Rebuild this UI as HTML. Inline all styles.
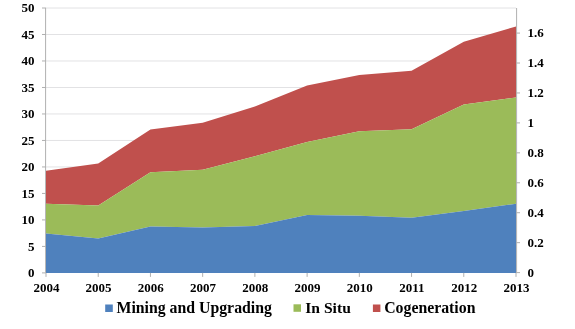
<!DOCTYPE html>
<html><head><meta charset="utf-8"><style>
html,body{margin:0;padding:0;background:#fff;width:575px;height:329px;overflow:hidden}
svg{display:block;will-change:transform}
.ax{font-family:"Liberation Serif",serif;font-weight:bold;font-size:13px;fill:#000}
.lg{font-family:"Liberation Serif",serif;font-weight:bold;font-size:15.8px;fill:#000}
</style></head><body>
<svg width="575" height="329" viewBox="0 0 575 329">
<line x1="46" x2="516" y1="246.41" y2="246.41" stroke="#E2E2E4" stroke-width="1"/>
<line x1="46" x2="516" y1="219.92" y2="219.92" stroke="#E2E2E4" stroke-width="1"/>
<line x1="46" x2="516" y1="193.43" y2="193.43" stroke="#E2E2E4" stroke-width="1"/>
<line x1="46" x2="516" y1="166.94" y2="166.94" stroke="#E2E2E4" stroke-width="1"/>
<line x1="46" x2="516" y1="140.45" y2="140.45" stroke="#E2E2E4" stroke-width="1"/>
<line x1="46" x2="516" y1="113.96" y2="113.96" stroke="#E2E2E4" stroke-width="1"/>
<line x1="46" x2="516" y1="87.47" y2="87.47" stroke="#E2E2E4" stroke-width="1"/>
<line x1="46" x2="516" y1="60.98" y2="60.98" stroke="#E2E2E4" stroke-width="1"/>
<line x1="46" x2="516" y1="34.49" y2="34.49" stroke="#E2E2E4" stroke-width="1"/>
<line x1="46" x2="516" y1="8.00" y2="8.00" stroke="#E2E2E4" stroke-width="1"/>
<line x1="45.6" x2="45.6" y1="8.0" y2="272.9" stroke="#B0B0B0" stroke-width="1"/>
<line x1="516.6" x2="516.6" y1="8.0" y2="272.9" stroke="#B0B0B0" stroke-width="1"/>
<polygon points="46.00,170.70 98.22,163.60 150.44,129.50 202.67,122.80 254.89,106.40 307.11,85.40 359.33,75.10 411.56,70.70 463.78,41.70 516.00,26.40 516.00,97.50 463.78,104.50 411.56,129.20 359.33,131.30 307.11,142.00 254.89,156.20 202.67,169.70 150.44,172.20 98.22,205.50 46.00,203.70" fill="#C0504D"/>
<polygon points="46.00,203.70 98.22,205.50 150.44,172.20 202.67,169.70 254.89,156.20 307.11,142.00 359.33,131.30 411.56,129.20 463.78,104.50 516.00,97.50 516.00,203.80 463.78,210.90 411.56,217.80 359.33,215.80 307.11,215.10 254.89,225.90 202.67,227.40 150.44,226.60 98.22,238.40 46.00,233.40" fill="#9BBB59"/>
<polygon points="46.00,233.40 98.22,238.40 150.44,226.60 202.67,227.40 254.89,225.90 307.11,215.10 359.33,215.80 411.56,217.80 463.78,210.90 516.00,203.80 516.00,272.9 46.00,272.9" fill="#4F81BD"/>
<line x1="42" x2="46" y1="272.90" y2="272.90" stroke="#B0B0B0" stroke-width="1"/>
<text x="34.5" y="277.00" text-anchor="end" class="ax">0</text>
<line x1="42" x2="46" y1="246.41" y2="246.41" stroke="#B0B0B0" stroke-width="1"/>
<text x="34.5" y="250.51" text-anchor="end" class="ax">5</text>
<line x1="42" x2="46" y1="219.92" y2="219.92" stroke="#B0B0B0" stroke-width="1"/>
<text x="34.5" y="224.02" text-anchor="end" class="ax">10</text>
<line x1="42" x2="46" y1="193.43" y2="193.43" stroke="#B0B0B0" stroke-width="1"/>
<text x="34.5" y="197.53" text-anchor="end" class="ax">15</text>
<line x1="42" x2="46" y1="166.94" y2="166.94" stroke="#B0B0B0" stroke-width="1"/>
<text x="34.5" y="171.04" text-anchor="end" class="ax">20</text>
<line x1="42" x2="46" y1="140.45" y2="140.45" stroke="#B0B0B0" stroke-width="1"/>
<text x="34.5" y="144.55" text-anchor="end" class="ax">25</text>
<line x1="42" x2="46" y1="113.96" y2="113.96" stroke="#B0B0B0" stroke-width="1"/>
<text x="34.5" y="118.06" text-anchor="end" class="ax">30</text>
<line x1="42" x2="46" y1="87.47" y2="87.47" stroke="#B0B0B0" stroke-width="1"/>
<text x="34.5" y="91.57" text-anchor="end" class="ax">35</text>
<line x1="42" x2="46" y1="60.98" y2="60.98" stroke="#B0B0B0" stroke-width="1"/>
<text x="34.5" y="65.08" text-anchor="end" class="ax">40</text>
<line x1="42" x2="46" y1="34.49" y2="34.49" stroke="#B0B0B0" stroke-width="1"/>
<text x="34.5" y="38.59" text-anchor="end" class="ax">45</text>
<line x1="42" x2="46" y1="8.00" y2="8.00" stroke="#B0B0B0" stroke-width="1"/>
<text x="34.5" y="12.10" text-anchor="end" class="ax">50</text>
<line x1="516" x2="520" y1="272.60" y2="272.60" stroke="#B0B0B0" stroke-width="1"/>
<text x="527.5" y="276.90" class="ax">0</text>
<line x1="516" x2="520" y1="242.66" y2="242.66" stroke="#B0B0B0" stroke-width="1"/>
<text x="527.5" y="246.96" class="ax">0.2</text>
<line x1="516" x2="520" y1="212.72" y2="212.72" stroke="#B0B0B0" stroke-width="1"/>
<text x="527.5" y="217.02" class="ax">0.4</text>
<line x1="516" x2="520" y1="182.78" y2="182.78" stroke="#B0B0B0" stroke-width="1"/>
<text x="527.5" y="187.08" class="ax">0.6</text>
<line x1="516" x2="520" y1="152.84" y2="152.84" stroke="#B0B0B0" stroke-width="1"/>
<text x="527.5" y="157.14" class="ax">0.8</text>
<line x1="516" x2="520" y1="122.90" y2="122.90" stroke="#B0B0B0" stroke-width="1"/>
<text x="527.5" y="127.20" class="ax">1</text>
<line x1="516" x2="520" y1="92.96" y2="92.96" stroke="#B0B0B0" stroke-width="1"/>
<text x="527.5" y="97.26" class="ax">1.2</text>
<line x1="516" x2="520" y1="63.02" y2="63.02" stroke="#B0B0B0" stroke-width="1"/>
<text x="527.5" y="67.32" class="ax">1.4</text>
<line x1="516" x2="520" y1="33.08" y2="33.08" stroke="#B0B0B0" stroke-width="1"/>
<text x="527.5" y="37.38" class="ax">1.6</text>
<line x1="46.00" x2="46.00" y1="272.9" y2="276.9" stroke="#B0B0B0" stroke-width="1"/>
<text x="46.40" y="292.3" text-anchor="middle" class="ax">2004</text>
<line x1="98.22" x2="98.22" y1="272.9" y2="276.9" stroke="#B0B0B0" stroke-width="1"/>
<text x="98.62" y="292.3" text-anchor="middle" class="ax">2005</text>
<line x1="150.44" x2="150.44" y1="272.9" y2="276.9" stroke="#B0B0B0" stroke-width="1"/>
<text x="150.84" y="292.3" text-anchor="middle" class="ax">2006</text>
<line x1="202.67" x2="202.67" y1="272.9" y2="276.9" stroke="#B0B0B0" stroke-width="1"/>
<text x="203.07" y="292.3" text-anchor="middle" class="ax">2007</text>
<line x1="254.89" x2="254.89" y1="272.9" y2="276.9" stroke="#B0B0B0" stroke-width="1"/>
<text x="255.29" y="292.3" text-anchor="middle" class="ax">2008</text>
<line x1="307.11" x2="307.11" y1="272.9" y2="276.9" stroke="#B0B0B0" stroke-width="1"/>
<text x="307.51" y="292.3" text-anchor="middle" class="ax">2009</text>
<line x1="359.33" x2="359.33" y1="272.9" y2="276.9" stroke="#B0B0B0" stroke-width="1"/>
<text x="359.73" y="292.3" text-anchor="middle" class="ax">2010</text>
<line x1="411.56" x2="411.56" y1="272.9" y2="276.9" stroke="#B0B0B0" stroke-width="1"/>
<text x="411.96" y="292.3" text-anchor="middle" class="ax">2011</text>
<line x1="463.78" x2="463.78" y1="272.9" y2="276.9" stroke="#B0B0B0" stroke-width="1"/>
<text x="464.18" y="292.3" text-anchor="middle" class="ax">2012</text>
<line x1="516.00" x2="516.00" y1="272.9" y2="276.9" stroke="#B0B0B0" stroke-width="1"/>
<text x="516.40" y="292.3" text-anchor="middle" class="ax">2013</text>
<rect x="105.2" y="304.5" width="7.6" height="7.5" fill="#4F81BD"/>
<text x="116.5" y="313.1" class="lg">Mining and Upgrading</text>
<rect x="293.5" y="304.3" width="7.5" height="7.5" fill="#9BBB59"/>
<text x="305.3" y="313.1" class="lg" style="font-size:15.6px">In Situ</text>
<rect x="372.9" y="304.5" width="7.5" height="7.5" fill="#C0504D"/>
<text x="384.2" y="313.1" class="lg">Cogeneration</text>
</svg>
</body></html>
